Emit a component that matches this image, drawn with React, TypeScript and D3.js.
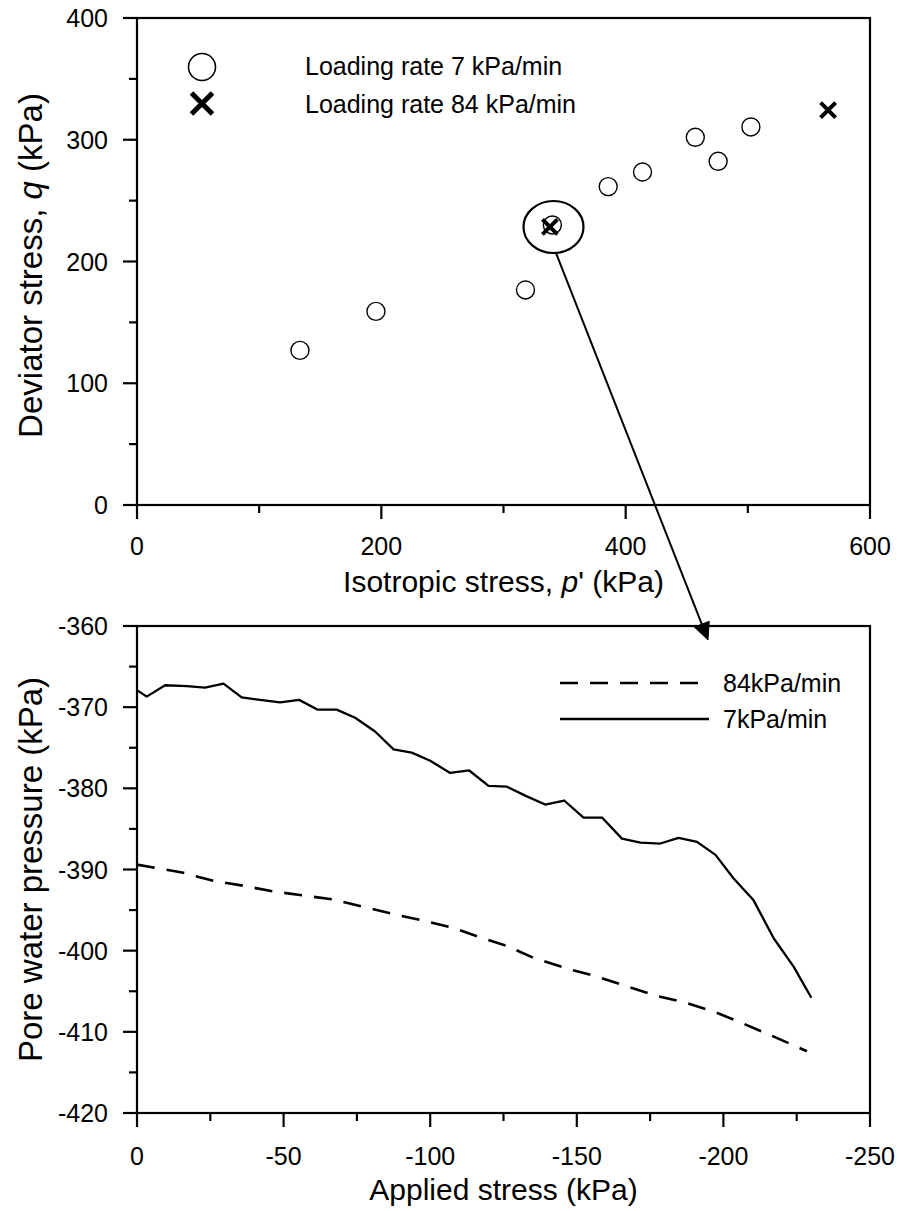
import React from "react";
import * as d3 from "d3";

// ---- Top panel data (q vs p') ----
const p7 = [133.4, 195.6, 318, 340, 385.7, 413.8, 457, 475.7, 502.5];
const q7 = [127, 159, 176.6, 230, 261.5, 273.5, 302, 282.3, 310.5];
const p84 = [338, 565.7];
const q84 = [228.5, 324.4];
const topXTicks = [0, 200, 400, 600];
const topXMinor = [100, 300, 500];
const topYTicks = [0, 100, 200, 300, 400];
const topYMinor = [50, 150, 250, 350];

// ---- Bottom panel data (pore water pressure vs applied stress) ----
const s7 = [0, -3.3, -9.6, -17, -23.2, -29.5, -35.7, -42, -48.8, -55.3, -61.5, -68.1, -74.4, -81.2, -87.5, -93.7, -100, -106.8, -113.3, -119.9, -126.2, -132.4, -139.2, -145.7, -152.3, -158.6, -165.4, -171.7, -178.5, -184.7, -191, -197.3, -203.5, -210.3, -217.2, -224, -230];
const u7 = [-367.9, -368.7, -367.3, -367.4, -367.6, -367.1, -368.8, -369.1, -369.4, -369.1, -370.3, -370.3, -371.3, -373, -375.2, -375.6, -376.6, -378.1, -377.8, -379.7, -379.8, -380.9, -382, -381.5, -383.6, -383.6, -386.2, -386.7, -386.8, -386.1, -386.6, -388.2, -391.1, -393.8, -398.5, -402, -405.8];
const s84 = [0, -15.8, -26, -36.3, -46.5, -56.8, -67, -77.2, -87.5, -97.7, -108, -118.2, -126, -135.3, -146.7, -156.9, -167.1, -177.4, -187, -196.7, -206.9, -216.6, -228.5];
const u84 = [-389.4, -390.4, -391.4, -392, -392.7, -393.2, -393.7, -394.6, -395.5, -396.3, -397.2, -398.5, -399.4, -400.9, -402.2, -403.2, -404.4, -405.6, -406.4, -407.5, -409, -410.5, -412.4];
const botXTicks = [0, -50, -100, -150, -200, -250];
const botXMinor = [-25, -75, -125, -175, -225];
const botYTicks = [-360, -370, -380, -390, -400, -410, -420];
const botYMinor = [-365, -375, -385, -395, -405, -415];

const FONT = "'Liberation Sans', Arial, sans-serif";

export default function App() {
  const L = 137, R = 870;
  const xT = d3.scaleLinear().domain([0, 600]).range([L, R]);
  const yT = d3.scaleLinear().domain([0, 400]).range([505, 18]);
  const xB = d3.scaleLinear().domain([0, -250]).range([L, R]);
  const yB = d3.scaleLinear().domain([-420, -360]).range([1113, 626]);

  const line7 = d3.line<number>().x((d, i) => xB(s7[i])).y((d) => yB(d))(u7) as string;
  const line84 = d3.line<number>().x((d, i) => xB(s84[i])).y((d) => yB(d))(u84) as string;

  const MAJ = 14, MIN = 8;
  const sw = 2.2;

  const crossPath = (cx: number, cy: number, h: number) =>
    `M${cx - h},${cy - h}L${cx + h},${cy + h}M${cx - h},${cy + h}L${cx + h},${cy - h}`;

  // arrow geometry
  const ax0 = 556, ay0 = 253, ax1 = 708, ay1 = 640;
  const ang = Math.atan2(ay1 - ay0, ax1 - ax0);
  const hl = 17, hw = 8;
  const bx = ax1 - hl * Math.cos(ang), by = ay1 - hl * Math.sin(ang);
  const head = `M${ax1},${ay1}L${bx + hw * Math.sin(ang)},${by - hw * Math.cos(ang)}L${bx - hw * Math.sin(ang)},${by + hw * Math.cos(ang)}Z`;

  return (
    <svg width={899} height={1211} style={{ position: "absolute", left: 0, top: 0, background: "#fff" }} fontFamily={FONT}>
      <rect x={0} y={0} width={899} height={1211} fill="#fff" />
      {/* ===== Top panel ===== */}
      <g stroke="#000" strokeWidth={sw} fill="none">
        <rect x={L} y={yT(400)} width={R - L} height={yT(0) - yT(400)} />
        {topXTicks.map((t) => (<line key={"tx" + t} x1={xT(t)} x2={xT(t)} y1={yT(0)} y2={yT(0) + MAJ} />))}
        {topXMinor.map((t) => (<line key={"txm" + t} x1={xT(t)} x2={xT(t)} y1={yT(0)} y2={yT(0) + MIN} />))}
        {topYTicks.map((t) => (<line key={"ty" + t} x1={L - MAJ} x2={L} y1={yT(t)} y2={yT(t)} />))}
        {topYMinor.map((t) => (<line key={"tym" + t} x1={L - MIN} x2={L} y1={yT(t)} y2={yT(t)} />))}
      </g>
      <g fontSize={25} fill="#000">
        {topXTicks.map((t) => (<text key={"txl" + t} x={xT(t)} y={yT(0) + 50} textAnchor="middle">{t}</text>))}
        {topYTicks.map((t) => (<text key={"tyl" + t} x={L - 29} y={yT(t) + 9} textAnchor="end">{t}</text>))}
      </g>
      <text x={(L + R) / 2} y={592} fontSize={30} textAnchor="middle">
        Isotropic stress, <tspan fontStyle="italic">p</tspan>' (kPa)
      </text>
      <text transform={`translate(42,${(yT(0) + yT(400)) / 2 + 4}) rotate(-90)`} fontSize={33} textAnchor="middle">
        Deviator stress, <tspan fontStyle="italic">q</tspan> (kPa)
      </text>
      {/* data */}
      <g fill="#fff" stroke="#000" strokeWidth={1.4}>
        {p7.map((p, i) => (<circle key={"c" + i} cx={xT(p)} cy={yT(q7[i])} r={9} />))}
      </g>
      <g stroke="#000" strokeWidth={4} fill="none">
        {p84.map((p, i) => (<path key={"x" + i} d={crossPath(xT(p), yT(q84[i]), 7.5)} />))}
      </g>
      {/* legend */}
      <circle cx={202} cy={67} r={13.5} fill="#fff" stroke="#000" strokeWidth={1.6} />
      <path d={crossPath(202, 103.5, 10.5)} stroke="#000" strokeWidth={5} fill="none" />
      <text x={305} y={75} fontSize={25}>Loading rate 7 kPa/min</text>
      <text x={305} y={113} fontSize={25}>Loading rate 84 kPa/min</text>

      {/* ===== Bottom panel ===== */}
      <g stroke="#000" strokeWidth={sw} fill="none">
        <rect x={L} y={yB(-360)} width={R - L} height={yB(-420) - yB(-360)} />
        {botXTicks.map((t) => (<line key={"bx" + t} x1={xB(t)} x2={xB(t)} y1={yB(-420)} y2={yB(-420) + MAJ} />))}
        {botXMinor.map((t) => (<line key={"bxm" + t} x1={xB(t)} x2={xB(t)} y1={yB(-420)} y2={yB(-420) + MIN} />))}
        {botYTicks.map((t) => (<line key={"by" + t} x1={L - MAJ} x2={L} y1={yB(t)} y2={yB(t)} />))}
        {botYMinor.map((t) => (<line key={"bym" + t} x1={L - MIN} x2={L} y1={yB(t)} y2={yB(t)} />))}
      </g>
      <g fontSize={25} fill="#000">
        {botXTicks.map((t) => (<text key={"bxl" + t} x={xB(t)} y={yB(-420) + 52} textAnchor="middle">{t}</text>))}
        {botYTicks.map((t) => (<text key={"byl" + t} x={L - 29} y={yB(t) + 9} textAnchor="end">{t}</text>))}
      </g>
      <text x={(L + R) / 2} y={1200} fontSize={30} textAnchor="middle">Applied stress (kPa)</text>
      <text transform={`translate(42,${(yB(-360) + yB(-420)) / 2}) rotate(-90)`} fontSize={33} textAnchor="middle">
        Pore water pressure (kPa)
      </text>
      <path d={line7} fill="none" stroke="#000" strokeWidth={2.3} strokeLinejoin="round" />
      <path d={line84} fill="none" stroke="#000" strokeWidth={2.6} strokeDasharray="18,12" />
      {/* legend */}
      <line x1={560} x2={702} y1={683} y2={683} stroke="#000" strokeWidth={2.6} strokeDasharray="18,12" />
      <line x1={560} x2={709} y1={719} y2={719} stroke="#000" strokeWidth={2.3} />
      <text x={723} y={692} fontSize={25}>84kPa/min</text>
      <text x={723} y={728} fontSize={25}>7kPa/min</text>

      {/* ===== Annotation ===== */}
      <ellipse cx={553.5} cy={227} rx={30} ry={26} fill="none" stroke="#000" strokeWidth={2.2} />
      <line x1={ax0} y1={ay0} x2={bx} y2={by} stroke="#000" strokeWidth={2} />
      <path d={head} fill="#000" stroke="#000" strokeWidth={1} />
    </svg>
  );
}
